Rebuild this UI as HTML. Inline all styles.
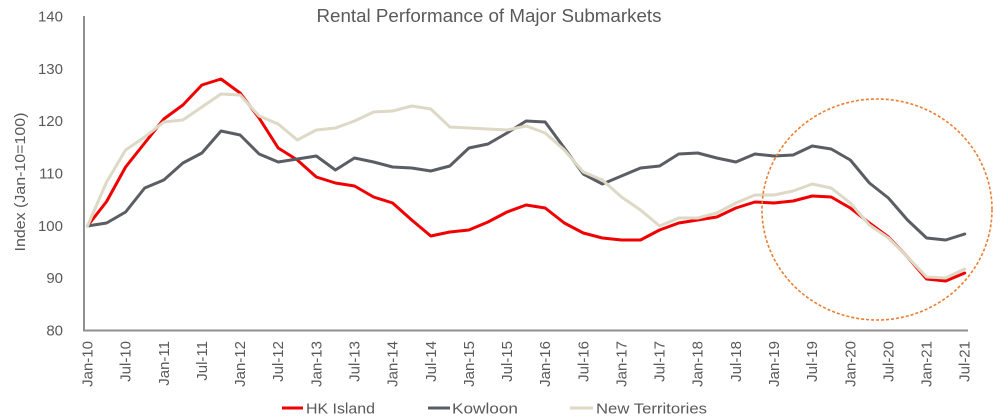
<!DOCTYPE html>
<html><head><meta charset="utf-8"><style>
html,body{margin:0;padding:0;background:#fff;}
svg{display:block;}
text{font-family:"Liberation Sans",sans-serif;fill:#595959;}
</style></head><body>
<svg width="993" height="420" viewBox="0 0 993 420" xmlns="http://www.w3.org/2000/svg">
<rect width="993" height="420" fill="#fff"/>
<text x="489" y="22" font-size="18" text-anchor="middle" textLength="345" lengthAdjust="spacingAndGlyphs">Rental Performance of Major Submarkets</text>
<g font-size="15" text-anchor="end">
<text x="63" y="21.5">140</text>
<text x="63" y="74">130</text>
<text x="63" y="126">120</text>
<text x="63" y="178.5">110</text>
<text x="63" y="231">100</text>
<text x="63" y="283">90</text>
<text x="63" y="335.5">80</text>
</g>
<text transform="translate(25,182) rotate(-90)" font-size="15" text-anchor="middle" textLength="139" lengthAdjust="spacingAndGlyphs">Index (Jan-10=100)</text>
<line x1="84" y1="16" x2="84" y2="331" stroke="#8f8f8f" stroke-width="2"/>
<line x1="83" y1="330.5" x2="968" y2="330.5" stroke="#8f8f8f" stroke-width="2"/>
<g font-size="15" text-anchor="end">
<text transform="translate(92.5,341) rotate(-90)">Jan-10</text>
<text transform="translate(130.6,341) rotate(-90)">Jul-10</text>
<text transform="translate(168.8,341) rotate(-90)">Jan-11</text>
<text transform="translate(206.9,341) rotate(-90)">Jul-11</text>
<text transform="translate(245.1,341) rotate(-90)">Jan-12</text>
<text transform="translate(283.2,341) rotate(-90)">Jul-12</text>
<text transform="translate(321.3,341) rotate(-90)">Jan-13</text>
<text transform="translate(359.5,341) rotate(-90)">Jul-13</text>
<text transform="translate(397.6,341) rotate(-90)">Jan-14</text>
<text transform="translate(435.8,341) rotate(-90)">Jul-14</text>
<text transform="translate(473.9,341) rotate(-90)">Jan-15</text>
<text transform="translate(512.0,341) rotate(-90)">Jul-15</text>
<text transform="translate(550.2,341) rotate(-90)">Jan-16</text>
<text transform="translate(588.3,341) rotate(-90)">Jul-16</text>
<text transform="translate(626.5,341) rotate(-90)">Jan-17</text>
<text transform="translate(664.6,341) rotate(-90)">Jul-17</text>
<text transform="translate(702.7,341) rotate(-90)">Jan-18</text>
<text transform="translate(740.9,341) rotate(-90)">Jul-18</text>
<text transform="translate(779.0,341) rotate(-90)">Jan-19</text>
<text transform="translate(817.2,341) rotate(-90)">Jul-19</text>
<text transform="translate(855.3,341) rotate(-90)">Jan-20</text>
<text transform="translate(893.4,341) rotate(-90)">Jul-20</text>
<text transform="translate(931.6,341) rotate(-90)">Jan-21</text>
<text transform="translate(969.7,341) rotate(-90)">Jul-21</text>
</g>
<g fill="none" stroke-width="3" stroke-linejoin="round" stroke-linecap="round">
<polyline stroke="#f00000" points="87.5,226 106.6,201.5 125.6,167 144.7,143 163.8,119 182.9,105 201.9,85 221.0,79 240.1,93 259.1,118 278.2,148 297.3,160 316.3,177 335.4,183 354.5,186 373.6,197 392.6,203 411.7,220 430.8,236 449.8,232 468.9,230 488.0,222 507.0,212 526.1,205 545.2,208 564.3,223 583.3,233 602.4,238 621.5,240 640.5,240 659.6,230 678.7,223 697.7,220 716.8,217 735.9,208 754.9,202 774.0,203 793.1,201 812.2,196 831.2,197 850.3,208 869.4,223 888.4,237 907.5,257 926.6,279 945.7,281 964.7,273"/>
<polyline stroke="#5a5d63" points="87.5,226 106.6,223 125.6,212 144.7,188 163.8,180 182.9,163 201.9,153 221.0,131 240.1,135 259.1,154 278.2,162 297.3,159 316.3,156 335.4,170 354.5,158 373.6,162 392.6,167 411.7,168 430.8,171 449.8,166 468.9,148 488.0,144 507.0,133 526.1,121 545.2,122 564.3,148 583.3,174 602.4,184 621.5,176 640.5,168 659.6,166 678.7,154 697.7,153 716.8,158 735.9,162 754.9,154 774.0,156 793.1,155 812.2,146 831.2,149 850.3,160 869.4,183 888.4,198 907.5,220 926.6,238 945.7,240 964.7,234"/>
<polyline stroke="#ddd9c6" points="87.5,226 106.6,182 125.6,150 144.7,137 163.8,122 182.9,120 201.9,107 221.0,94 240.1,95 259.1,116 278.2,124 297.3,140 316.3,130 335.4,128 354.5,121 373.6,112 392.6,111 411.7,106 430.8,109 449.8,127 468.9,128 488.0,129 507.0,130 526.1,126 545.2,133 564.3,150 583.3,172 602.4,180 621.5,197 640.5,210 659.6,226 678.7,218 697.7,218 716.8,213 735.9,203 754.9,195 774.0,195 793.1,191 812.2,184 831.2,188 850.3,203 869.4,225 888.4,238 907.5,257 926.6,277 945.7,278 964.7,269"/>
</g>
<ellipse cx="877" cy="209.5" rx="115" ry="110.5" fill="none" stroke="#ed7d31" stroke-width="1.6" stroke-dasharray="3,2"/>
<g font-size="15">
<line x1="282" y1="408" x2="303" y2="408" stroke="#f00000" stroke-width="3"/>
<text x="306" y="413.5" textLength="69" lengthAdjust="spacingAndGlyphs">HK Island</text>
<line x1="428" y1="408" x2="450" y2="408" stroke="#5a5d63" stroke-width="3"/>
<text x="452" y="413.5" textLength="66" lengthAdjust="spacingAndGlyphs">Kowloon</text>
<line x1="570" y1="408" x2="593" y2="408" stroke="#ddd9c6" stroke-width="3"/>
<text x="596" y="413.5" textLength="111" lengthAdjust="spacingAndGlyphs">New Territories</text>
</g>
</svg>
</body></html>
